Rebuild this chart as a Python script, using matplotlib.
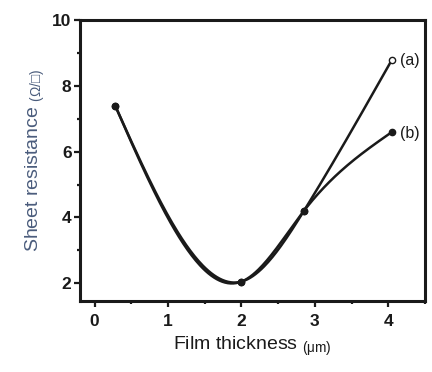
import numpy as np
import matplotlib
matplotlib.use("Agg")
import matplotlib.pyplot as plt
from matplotlib.ticker import MultipleLocator

# Data
thickness = [0.28, 2.0, 2.85, 4.05]          # µm
resist_a = [7.4, 2.05, 4.2, 8.8]             # curve (a)
resist_b = [7.4, 2.05, 4.2, 6.6]             # curve (b)
curve_labels = ["(a)", "(b)"]
x_ticks = [0, 1, 2, 3, 4]
y_ticks = [2, 4, 6, 8, 10]


def natural_spline(x, y, n=200):
    x = np.asarray(x, float)
    y = np.asarray(y, float)
    m = len(x)
    h = np.diff(x)
    A = np.zeros((m, m))
    r = np.zeros(m)
    A[0, 0] = A[-1, -1] = 1
    for i in range(1, m - 1):
        A[i, i - 1] = h[i - 1]
        A[i, i] = 2 * (h[i - 1] + h[i])
        A[i, i + 1] = h[i]
        r[i] = 6 * ((y[i + 1] - y[i]) / h[i] - (y[i] - y[i - 1]) / h[i - 1])
    M = np.linalg.solve(A, r)
    xs = np.linspace(x[0], x[-1], n)
    idx = np.clip(np.searchsorted(x, xs) - 1, 0, m - 2)
    x0, x1 = x[idx], x[idx + 1]
    hh = x1 - x0
    a = (x1 - xs) / hh
    b = (xs - x0) / hh
    ys = (a * y[idx] + b * y[idx + 1]
          + ((a ** 3 - a) * M[idx] + (b ** 3 - b) * M[idx + 1]) * hh ** 2 / 6)
    return xs, ys


plt.rcParams['font.family'] = ['Liberation Sans', 'DejaVu Sans']
plt.rcParams['mathtext.fontset'] = 'custom'
plt.rcParams['mathtext.rm'] = 'Liberation Sans'
plt.rcParams['mathtext.it'] = 'Liberation Sans'
fig = plt.figure(figsize=(4.32, 3.72), dpi=100)
ax = fig.add_axes([0.185, 0.19, 0.799, 0.756])

ink = "#1a1a1a"
for ys_data, lab, mfc in [(resist_a, curve_labels[0], "white"),
                          (resist_b, curve_labels[1], ink)]:
    xs, ys = natural_spline(thickness, ys_data)
    ax.plot(xs, ys, color=ink, lw=1.8)
    ax.plot(thickness, ys_data, 'o', ms=4.5, mfc=mfc, mec=ink, mew=1.0)
    ax.annotate(lab, (thickness[-1], ys_data[-1]), xytext=(6, -1),
                textcoords='offset points', va='center', ha='left',
                fontsize=11.5, color=ink)

ax.set_xlim(-0.2, 4.5)
ax.set_ylim(1.45, 10)
ax.set_xticks(x_ticks)
ax.set_yticks(y_ticks)
ax.xaxis.set_minor_locator(MultipleLocator(0.5))
ax.yaxis.set_minor_locator(MultipleLocator(1))
ax.tick_params(which='both', direction='out', width=1.6, color=ink,
               labelsize=12.5, labelcolor=ink, pad=2)
ax.tick_params(axis='x', which='major', pad=5)
ax.tick_params(which='major', length=4)
ax.tick_params(which='minor', length=2.5)
for t in ax.get_xticklabels() + ax.get_yticklabels():
    t.set_fontweight('bold')
for s in ax.spines.values():
    s.set_linewidth(2.2)
    s.set_color(ink)

ax.set_xlabel("Film thickness $_{(\\mathrm{\u03bcm})}$", fontsize=14, color=ink,
              labelpad=4)
ax.set_ylabel("Sheet resistance $_{(\\mathrm{\u03a9/\u25a1})}$", fontsize=14,
              color="#4a5c7c", labelpad=4)

fig.savefig("out.png", dpi=100)
